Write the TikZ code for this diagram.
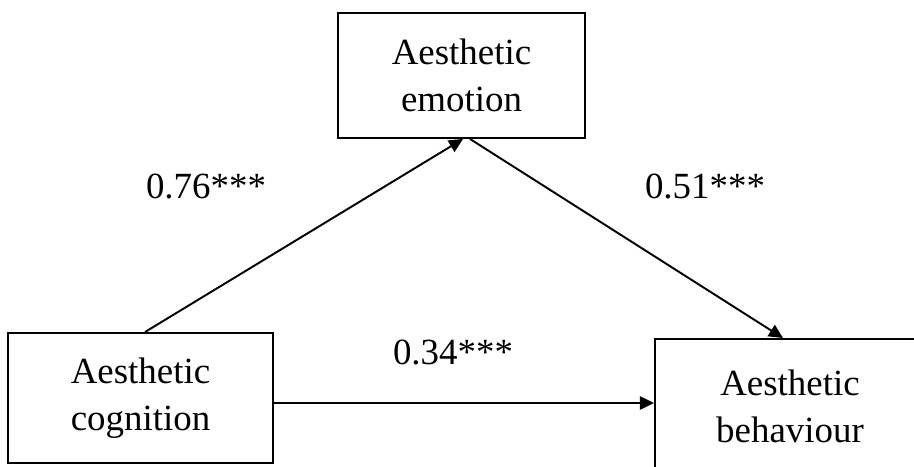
\documentclass[tikz,border=0pt]{standalone}
\usepackage{fontspec}
\setmainfont{Liberation Serif}
\usetikzlibrary{arrows.meta, positioning}

\begin{document}
\begin{tikzpicture}[line width=1.1pt, >={Triangle[length=8pt,width=7.5pt]}]
    \tikzstyle{var}=[draw=black, fill=white, align=center, inner sep=0pt, font=\fontsize{21}{27}\selectfont]
    \tikzstyle{coef}=[font=\fontsize{21}{25}\selectfont]

    \useasboundingbox (0,0) rectangle (18.28,9.32);
    \clip (0,0) rectangle (18.28,9.32);

	\node[var, minimum width=4.94cm, minimum height=2.5cm] (emo) at (9.23,7.81) {Aesthetic\\emotion};
	\node[var, minimum width=5.3cm, minimum height=2.6cm] (cog) at (2.81,1.36) {Aesthetic\\cognition};
	\node[var, minimum width=5.4cm, minimum height=2.7cm] (beh) at (15.8,1.19) {Aesthetic\\behaviour};

	\draw[->] ([xshift=0.09cm]cog.north) -- ([xshift=0.03cm]emo.south);
	\draw[->] ([xshift=0.17cm]emo.south) -- ([xshift=-0.14cm]beh.north);
	\coordinate (h) at ([yshift=-0.1cm]cog.east);
	\draw[->] (h) -- (h -| beh.west);

	\node[coef] (a) at (4.12,5.6) {0.76***};
	\node[coef] (b) at (14.1,5.6) {0.51***};
	\node[coef] (c) at (9.06,2.28) {0.34***};
\end{tikzpicture}
\end{document}
